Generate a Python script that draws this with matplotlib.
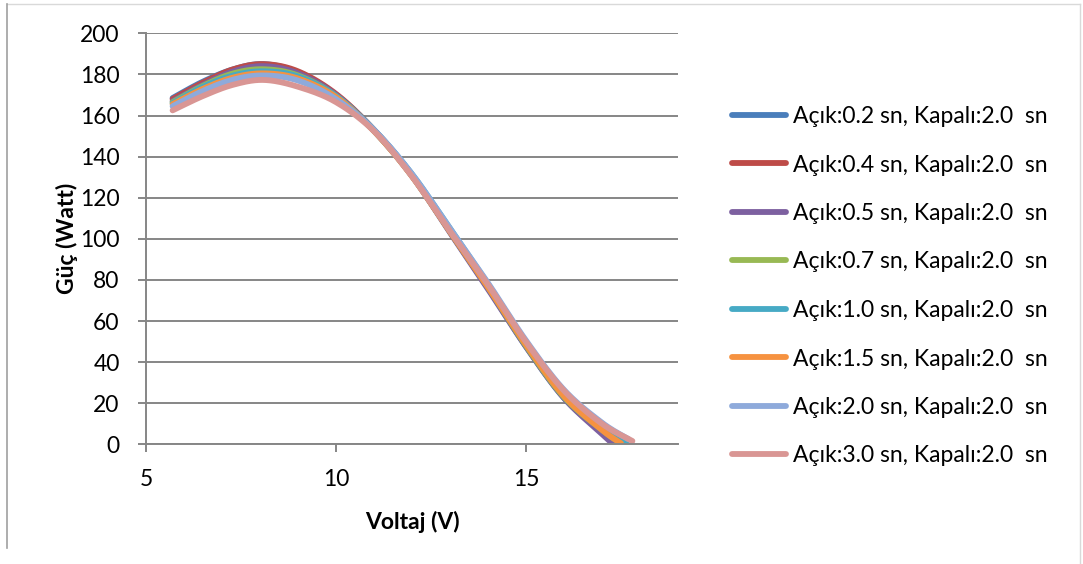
import numpy as np
import matplotlib
matplotlib.use("Agg")
import matplotlib.pyplot as plt
from matplotlib.lines import Line2D

plt.rcParams["font.family"] = ["Lato", "DejaVu Sans"]

# Measured power (W) vs. voltage (V) for each on/off switching period
labels = [
    "Açık:0.2 sn, Kapalı:2.0  sn",
    "Açık:0.4 sn, Kapalı:2.0  sn",
    "Açık:0.5 sn, Kapalı:2.0  sn",
    "Açık:0.7 sn, Kapalı:2.0  sn",
    "Açık:1.0 sn, Kapalı:2.0  sn",
    "Açık:1.5 sn, Kapalı:2.0  sn",
    "Açık:2.0 sn, Kapalı:2.0  sn",
    "Açık:3.0 sn, Kapalı:2.0  sn",
]

v_common = [5.7, 6.5, 7.3, 8.1, 9.0, 10.0, 11.0, 12.0, 13.0, 14.0, 15.0, 16.0, 17.0]
v_end = [17.4, 17.5, 17.3, 17.5, 17.65, 17.5, 17.7, 17.8]

p_02 = [168.5, 176.5, 182.5, 185.0, 181.0, 170.0, 153.0, 131.0, 103.5, 76.0, 47.5, 22.5, 6.0, 0.0]
p_04 = [168.0, 176.0, 182.5, 185.0, 181.5, 170.5, 153.0, 131.0, 104.0, 76.5, 48.0, 23.0, 7.0, 0.0]
p_05 = [167.0, 175.0, 181.5, 184.0, 180.5, 170.0, 152.5, 130.5, 103.0, 75.5, 47.5, 22.5, 5.0, 0.0]
p_07 = [166.5, 174.5, 180.5, 182.5, 179.5, 169.5, 152.5, 130.5, 103.5, 76.5, 48.0, 23.0, 7.0, 0.5]
p_10 = [166.0, 174.0, 179.5, 181.5, 179.0, 169.5, 153.0, 131.5, 105.0, 78.0, 49.5, 24.5, 8.0, 1.0]
p_15 = [165.5, 173.0, 178.5, 180.5, 178.0, 169.0, 152.5, 130.5, 103.5, 76.5, 48.5, 23.5, 7.0, 0.5]
p_20 = [164.5, 172.0, 177.5, 179.5, 177.0, 168.0, 153.0, 131.5, 105.0, 78.5, 50.5, 26.5, 10.5, 2.5]
p_30 = [162.5, 169.5, 175.0, 177.3, 174.0, 166.5, 152.4, 130.4, 103.7, 77.7, 49.9, 26.1, 10.0, 1.6]

powers = [p_02, p_04, p_05, p_07, p_10, p_15, p_20, p_30]

colors = ["#4A7EBB", "#BE4B48", "#7D60A0", "#98B954",
          "#46AAC5", "#F69240", "#8EAADB", "#D99694"]

x_ticks = [5, 10, 15]
y_ticks = list(range(0, 201, 20))


def smooth(x, y, steps=24):
    """Catmull-Rom spline through the points (smoothed line style)."""
    x = np.asarray(x, float)
    y = np.asarray(y, float)
    px = np.concatenate([[x[0]], x, [x[-1]]])
    py = np.concatenate([[y[0]], y, [y[-1]]])
    xs, ys = [], []
    t = np.linspace(0, 1, steps, endpoint=False)
    for i in range(1, len(px) - 2):
        p0, p1, p2, p3 = px[i - 1], px[i], px[i + 1], px[i + 2]
        q0, q1, q2, q3 = py[i - 1], py[i], py[i + 1], py[i + 2]
        c1x, c1y = p1 + (p2 - p0) / 6, q1 + (q2 - q0) / 6
        c2x, c2y = p2 - (p3 - p1) / 6, q2 - (q3 - q1) / 6
        a = (1 - t) ** 3
        b = 3 * (1 - t) ** 2 * t
        c = 3 * (1 - t) * t ** 2
        d = t ** 3
        xs.append(a * p1 + b * c1x + c * c2x + d * p2)
        ys.append(a * q1 + b * c1y + c * c2y + d * q2)
    xs.append([x[-1]])
    ys.append([y[-1]])
    return np.concatenate(xs), np.concatenate(ys)


W, H = 1083, 564
fig = plt.figure(figsize=(W / 100, H / 100), dpi=100)
ax = fig.add_axes([146 / W, 1 - 444.3 / H, (678 - 146) / W, (444.3 - 33.3) / H])

handles = []
for lab, p, ve, col in zip(labels, powers, v_end, colors):
    xs, ys = smooth(v_common + [ve], p)
    ax.plot(xs, ys, color=col, lw=4.2, solid_capstyle="round", solid_joinstyle="round")
    handles.append(Line2D([0], [0], color=col, lw=4.2, solid_capstyle="round"))

grid_col = "#868686"
ax.set_xlim(5, 19)
ax.set_ylim(0, 200)
ax.set_xticks(x_ticks)
ax.set_yticks(y_ticks)
ax.yaxis.grid(True, color=grid_col, lw=1.4)
ax.set_axisbelow(True)
for s in ["top", "right"]:
    ax.spines[s].set_visible(False)
for s in ["left", "bottom"]:
    ax.spines[s].set_color(grid_col)
    ax.spines[s].set_linewidth(1.4)
ax.tick_params(axis="both", direction="out", length=6, width=1.4, color=grid_col,
               labelsize=16.5, labelcolor="black")
ax.tick_params(axis="y", pad=13)
ax.tick_params(axis="x", pad=12)

ax.set_xlabel("Voltaj (V)", fontsize=16.5, fontweight="bold", labelpad=15)
ax.set_ylabel("Güç (Watt)", fontsize=16.5, fontweight="bold", labelpad=1)

fig.legend(handles, labels, loc="upper left",
           bbox_to_anchor=(732 / W, 1 - 106 / H), frameon=False,
           fontsize=16.5, handlelength=2.36, handletextpad=0.3,
           labelspacing=1.2, borderpad=0, borderaxespad=0)

# Chart frame (top, right and left edges)
frame = [([7, 1080], [4, 4], "#d9d9d9", 1.0),
         ([1080, 1080], [4, 564], "#d9d9d9", 1.0),
         ([7, 7], [4, 548], "#a0a0a0", 1.2)]
for fx, fy, fc, flw in frame:
    fig.lines.append(Line2D([v / W for v in fx], [1 - v / H for v in fy],
                            transform=fig.transFigure, color=fc, lw=flw))

fig.savefig("out.png", dpi=100)
